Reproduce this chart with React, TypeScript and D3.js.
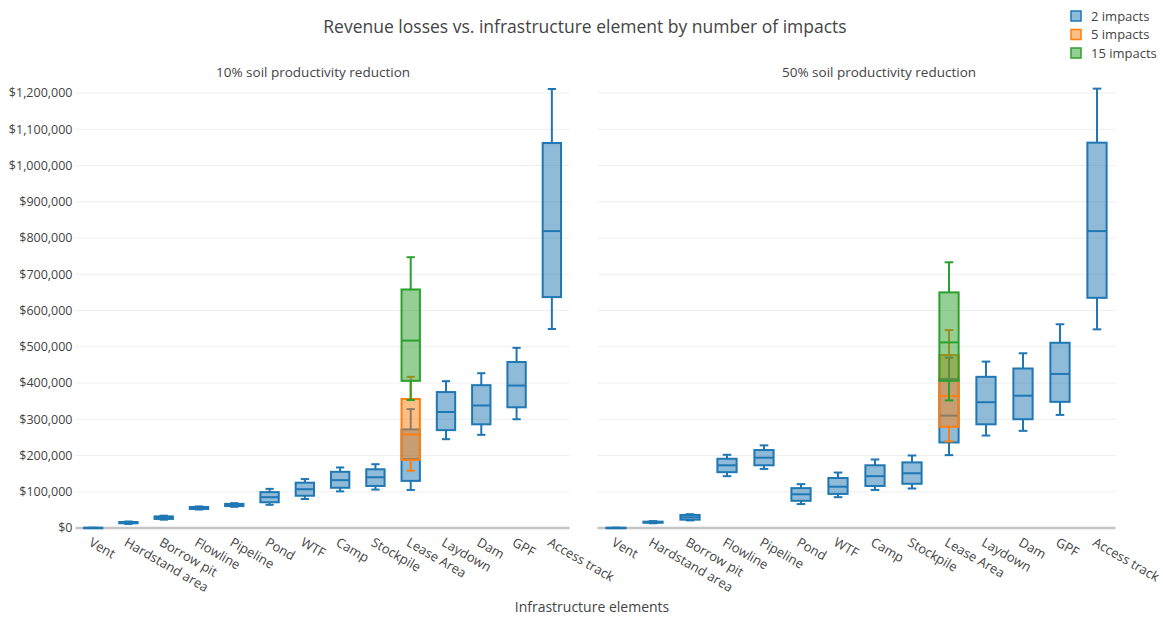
import React from 'react';
import * as d3 from 'd3';

const categories = [
  'Vent', 'Hardstand area', 'Borrow pit', 'Flowline', 'Pipeline', 'Pond', 'WTF',
  'Camp', 'Stockpile', 'Lease Area', 'Laydown', 'Dam', 'GPF', 'Access track',
];

// Box statistics per category: [min, q1, median, q3, max]
const twoImpacts10: number[][] = [
  [0, 200, 400, 600, 800],
  [11000, 13000, 14500, 16500, 18000],
  [23000, 25000, 28500, 32000, 34000],
  [51000, 52500, 55000, 58000, 59500],
  [58500, 60500, 63500, 66500, 68500],
  [64000, 71000, 85000, 99000, 108000],
  [80000, 89000, 107000, 125000, 135000],
  [101000, 111000, 132000, 155000, 167000],
  [106000, 116000, 140000, 162000, 176000],
  [105000, 130000, 190000, 272000, 328000],
  [245000, 270000, 320000, 375000, 405000],
  [257000, 286000, 338000, 394000, 427000],
  [300000, 333000, 393000, 458000, 497000],
  [549000, 637000, 819000, 1062000, 1211000],
];

const twoImpacts50: number[][] = [
  [0, 200, 400, 600, 800],
  [13000, 14500, 16000, 17500, 19000],
  [21000, 23000, 29500, 36000, 38000],
  [143000, 154000, 173000, 191000, 202000],
  [163000, 173000, 194000, 215000, 228000],
  [66000, 75000, 93000, 110000, 121000],
  [85000, 94000, 114000, 138000, 153000],
  [105000, 116000, 143000, 173000, 189000],
  [109000, 122000, 151000, 181000, 200000],
  [201000, 236000, 310000, 411000, 470000],
  [255000, 286000, 347000, 417000, 459000],
  [268000, 300000, 365000, 440000, 482000],
  [312000, 348000, 425000, 511000, 562000],
  [548000, 635000, 819000, 1063000, 1212000],
];

const multiImpactCategories = ['Lease Area'];
const fiveImpacts10: number[][] = [[158000, 188000, 258000, 356000, 417000]];
const fiveImpacts50: number[][] = [[239000, 279000, 364000, 477000, 546000]];
const fifteenImpacts10: number[][] = [[353000, 406000, 517000, 658000, 747000]];
const fifteenImpacts50: number[][] = [[352000, 406000, 512000, 650000, 733000]];

const yTicks = [0, 100000, 200000, 300000, 400000, 500000, 600000, 700000, 800000, 900000, 1000000, 1100000, 1200000];

const seriesNames = ['2 impacts', '5 impacts', '15 impacts'];
const seriesColors = ['#1f77b4', '#ff7f0e', '#2ca02c'];

const panelTitles = ['10% soil productivity reduction', '50% soil productivity reduction'];

const W = 1163;
const H = 617;
const FONT = '"Open Sans", "Noto Sans", sans-serif';
const TEXT = '#444';

const y = d3.scaleLinear().domain([0, 1250000]).range([528, 528 - 12.5 * 36.25]);
const money = (v: number) => '$' + d3.format(',')(v);

type Series = { cats: string[]; stats: number[][]; color: string };

function Box({ cx, w, s, color }: { cx: number; w: number; s: number[]; color: string }) {
  const [mn, q1, md, q3, mx] = s;
  const cap = w * 0.45;
  const fill = d3.color(color)!.copy({ opacity: 0.5 }).formatRgb();
  return (
    <g stroke={color} strokeWidth={2} fill="none">
      <line x1={cx} x2={cx} y1={y(q3)} y2={y(mx)} />
      <line x1={cx} x2={cx} y1={y(q1)} y2={y(mn)} />
      <line x1={cx - cap / 2} x2={cx + cap / 2} y1={y(mx)} y2={y(mx)} />
      <line x1={cx - cap / 2} x2={cx + cap / 2} y1={y(mn)} y2={y(mn)} />
      <rect x={cx - w / 2} y={y(q3)} width={w} height={Math.max(0.5, y(q1) - y(q3))} fill={fill} />
      <line x1={cx - w / 2} x2={cx + w / 2} y1={y(md)} y2={y(md)} />
    </g>
  );
}

function Panel({ x0, x1, title, titleX, series, showY }: {
  x0: number; x1: number; title: string; titleX: number; series: Series[]; showY: boolean;
}) {
  const x = d3.scaleBand<string>().domain(categories).range([x0, x1]);
  const bw = x.bandwidth() * 0.52;
  return (
    <g>
      {yTicks.slice(1).map((t) => (
        <line key={t} x1={x0} x2={x1} y1={y(t)} y2={y(t)} stroke="#eee" strokeWidth={1} />
      ))}
      {showY && yTicks.map((t) => (
        <text key={t} x={x0 - 3} y={y(t)} dy="0.35em" textAnchor="end" fontSize={12.5} fill={TEXT} fontFamily={FONT}>
          {money(t)}
        </text>
      ))}
      <line x1={x0} x2={x1} y1={y(0)} y2={y(0)} stroke="#c4c4c4" strokeWidth={2.5} />
      {series.map((se, i) => (
        <g key={i}>
          {se.cats.map((c, j) => (
            <Box key={c} cx={x(c)! + x.bandwidth() / 2} w={bw} s={se.stats[j]} color={se.color} />
          ))}
        </g>
      ))}
      {categories.map((c) => {
        const cx = x(c)! + x.bandwidth() / 2;
        return (
          <text key={c} transform={`translate(${cx},${536}) rotate(30)`} dy="0.8em" fontSize={13} fill={TEXT} fontFamily={FONT}>
            {c}
          </text>
        );
      })}
      <text x={titleX} y={77} textAnchor="middle" fontSize={13.5} fill={TEXT} fontFamily={FONT}>{title}</text>
    </g>
  );
}

export default function App() {
  const left: Series[] = [
    { cats: categories, stats: twoImpacts10, color: seriesColors[0] },
    { cats: multiImpactCategories, stats: fiveImpacts10, color: seriesColors[1] },
    { cats: multiImpactCategories, stats: fifteenImpacts10, color: seriesColors[2] },
  ];
  const right: Series[] = [
    { cats: categories, stats: twoImpacts50, color: seriesColors[0] },
    { cats: multiImpactCategories, stats: fiveImpacts50, color: seriesColors[1] },
    { cats: multiImpactCategories, stats: fifteenImpacts50, color: seriesColors[2] },
  ];
  return (
    <svg width={W} height={H} style={{ position: 'absolute', left: 0, top: 0, background: '#fff' }}>
      <rect width={W} height={H} fill="#fff" />
      <text x={585} y={33} textAnchor="middle" fontSize={17.5} fill={TEXT} fontFamily={FONT}>
        Revenue losses vs. infrastructure element by number of impacts
      </text>
      <Panel x0={75.5} x1={569.5} title={panelTitles[0]} titleX={313} series={left} showY />
      <Panel x0={597.5} x1={1115.5} title={panelTitles[1]} titleX={879} series={right} showY={false} />
      <text x={592} y={612} textAnchor="middle" fontSize={14} fill={TEXT} fontFamily={FONT}>Infrastructure elements</text>
      {seriesNames.map((n, i) => {
        const cy = 16 + i * 18.5;
        const c = seriesColors[i];
        return (
          <g key={n}>
            <rect x={1071} y={cy - 5} width={10} height={10} fill={d3.color(c)!.copy({ opacity: 0.5 }).formatRgb()} stroke={c} strokeWidth={1.5} />
            <text x={1091} y={cy} dy="0.35em" fontSize={13} fill={TEXT} fontFamily={FONT}>{n}</text>
          </g>
        );
      })}
    </svg>
  );
}
